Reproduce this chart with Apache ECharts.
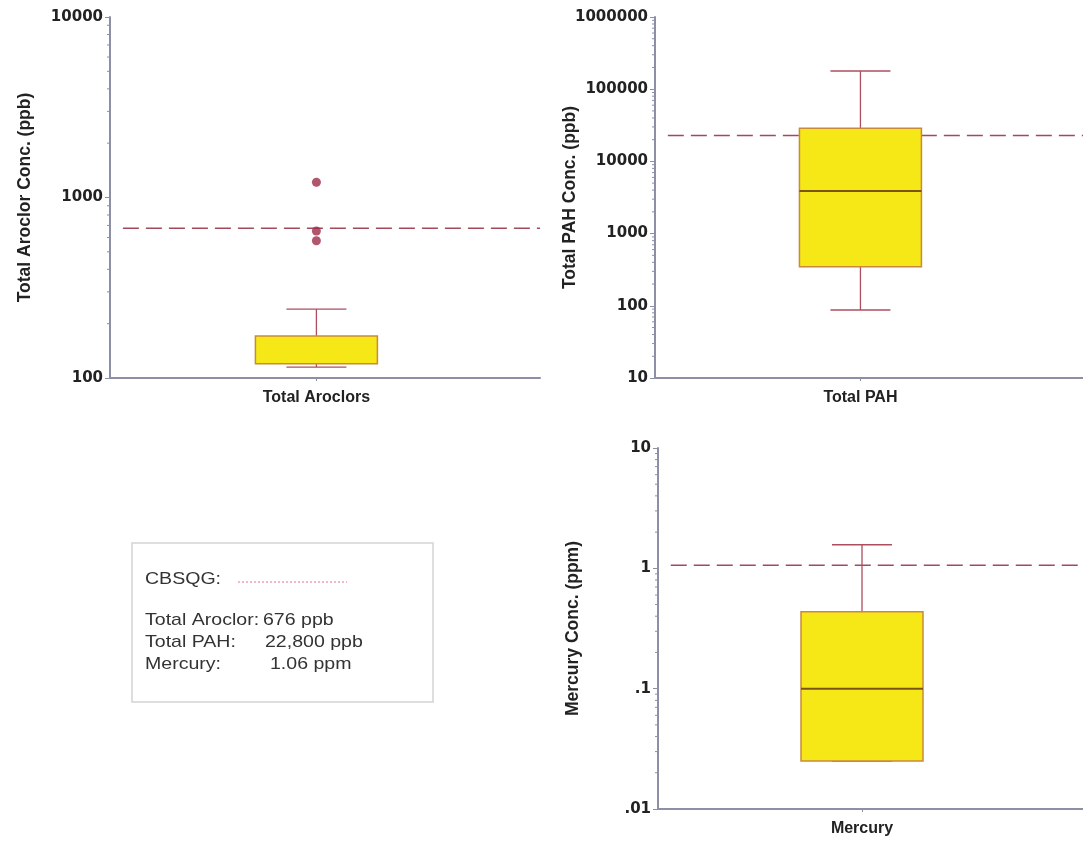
<!DOCTYPE html>
<html>
<head>
<meta charset="utf-8">
<script src="https://cdn.jsdelivr.net/npm/echarts@6/dist/echarts.min.js"></script>
<style>
  html, body { margin: 0; padding: 0; background: #ffffff; }
  #chart { width: 1083px; height: 841px; }
</style>
</head>
<body>
<div id="chart"></div>
<script>
// ---- data ----
const categories = ['Total Aroclors', 'Total PAH', 'Mercury'];
const axisTitles = ['Total Aroclor Conc. (ppb)', 'Total PAH Conc. (ppb)', 'Mercury Conc. (ppm)'];
const legendNames = ['Total Aroclor:', 'Total PAH:', 'Mercury:'];
const units = ['ppb', 'ppb', 'ppm'];
// box summaries: lower whisker, Q1, median, Q3, upper whisker
const aroclorBox = [115, 120, 120, 171, 241];
const pahBox = [87.5, 348, 3890, 28700, 178700];
const mercuryBox = [0.025, 0.025, 0.1, 0.435, 1.57];
const aroclorOutliers = [1214, 652, 576];
// sediment quality guideline for each analyte
const cbsqg = [676, 22800, 1.06];
const axisRanges = [[100, 10000], [10, 1000000], [0.01, 10]];

// ---- layout & style ----
const FONT = '"Liberation Sans", Arial, sans-serif';
const TICK_FONT = '"DejaVu Sans", sans-serif';
const AXIS_COLOR = '#8d8fa6';
const BOX_POS = 0.48;
const BOX_HALF = 61;
const CAP_HALF = 30;
const grids = [
  { left: 110, top: 17, width: 430, height: 361 },
  { left: 655, top: 17, width: 428, height: 361 },
  { left: 658, top: 448, width: 425, height: 361 }
];
const NAME_GAP = 76;
const boxes = [aroclorBox, pahBox, mercuryBox];

function fmtTick(v) {
  if (v >= 1) return String(Math.round(v));
  return String(parseFloat(v.toPrecision(1))).replace(/^0\./, '.');
}

// 2..9 multiples of every decade inside an axis range
function minorTickValues(range) {
  const out = [];
  const lo = Math.round(Math.log10(range[0]));
  const hi = Math.round(Math.log10(range[1]));
  for (let e = lo; e < hi; e++) {
    for (let m = 2; m <= 9; m++) out.push([0, m * Math.pow(10, e)]);
  }
  return out;
}

function renderBox(params, api) {
  const x = api.value(0);
  const lo = api.coord([x, api.value(1)]);
  const q1 = api.coord([x, api.value(2)]);
  const md = api.coord([x, api.value(3)]);
  const q3 = api.coord([x, api.value(4)]);
  const hi = api.coord([x, api.value(5)]);
  const cx = lo[0];
  const whisker = { stroke: '#ad4f5e', lineWidth: 1.3 };
  const children = [
    { type: 'line', shape: { x1: cx, y1: hi[1], x2: cx, y2: q3[1] }, style: whisker },
    { type: 'line', shape: { x1: cx - CAP_HALF, y1: hi[1], x2: cx + CAP_HALF, y2: hi[1] }, style: whisker },
    { type: 'line', shape: { x1: cx, y1: q1[1], x2: cx, y2: lo[1] }, style: whisker },
    { type: 'line', shape: { x1: cx - CAP_HALF, y1: lo[1], x2: cx + CAP_HALF, y2: lo[1] }, style: whisker },
    { type: 'rect', shape: { x: cx - BOX_HALF, y: q3[1], width: 2 * BOX_HALF, height: q1[1] - q3[1] },
      style: { fill: '#f6e716', stroke: '#c98a3c', lineWidth: 1.5 } }
  ];
  // a median sitting on a box edge merges with the border
  if (api.value(3) !== api.value(2) && api.value(3) !== api.value(4)) {
    children.push({ type: 'line', shape: { x1: cx - BOX_HALF, y1: md[1], x2: cx + BOX_HALF, y2: md[1] },
      style: { stroke: '#7a5518', lineWidth: 2 } });
  }
  return { type: 'group', children: children };
}

function renderMinorTick(params, api) {
  const p = api.coord([api.value(0), api.value(1)]);
  return { type: 'line', shape: { x1: p[0] - 3, y1: p[1], x2: p[0], y2: p[1] },
           style: { stroke: AXIS_COLOR, lineWidth: 1 } };
}

const xAxes = categories.map((c, i) => ({
  type: 'value', gridIndex: i, min: 0, max: 1,
  axisLine: { show: true, onZero: false, lineStyle: { color: AXIS_COLOR, width: 2 } },
  axisTick: { show: true, customValues: [BOX_POS], length: 3, lineStyle: { color: AXIS_COLOR } },
  axisLabel: { customValues: [BOX_POS], formatter: () => c, margin: 12,
               fontFamily: FONT, fontWeight: 'bold', fontSize: 16, color: '#222' },
  splitLine: { show: false }
}));

const yAxes = categories.map((c, i) => ({
  type: 'log', logBase: 10, gridIndex: i, min: axisRanges[i][0], max: axisRanges[i][1],
  name: axisTitles[i], nameLocation: 'middle', nameGap: NAME_GAP, nameMoveOverlap: false,
  nameTextStyle: { fontFamily: FONT, fontWeight: 'bold', fontSize: 17.5, color: '#222' },
  axisLine: { show: true, lineStyle: { color: AXIS_COLOR, width: 2 } },
  axisTick: { show: true, length: 5, lineStyle: { color: AXIS_COLOR } },
  axisLabel: { formatter: fmtTick, margin: 7, showMinLabel: true, showMaxLabel: true,
               fontFamily: TICK_FONT, fontWeight: 'bold', fontSize: 15, color: '#222' },
  splitLine: { show: false }
}));

const series = [];
categories.forEach((c, i) => {
  series.push({
    type: 'line', xAxisIndex: i, yAxisIndex: i, silent: true, z: 1,
    symbol: 'none', data: [[0.03, cbsqg[i]], [1, cbsqg[i]]],
    lineStyle: { type: [16, 7], color: '#a24a5c', width: 1.5 }
  });
  series.push({
    type: 'custom', xAxisIndex: i, yAxisIndex: i, z: 2, clip: false,
    renderItem: renderBox, data: [[BOX_POS].concat(boxes[i])]
  });
  series.push({
    type: 'custom', xAxisIndex: i, yAxisIndex: i, z: 3, clip: false, silent: true,
    renderItem: renderMinorTick, data: minorTickValues(axisRanges[i])
  });
});
series.push({
  type: 'scatter', xAxisIndex: 0, yAxisIndex: 0, z: 4, symbolSize: 9,
  itemStyle: { color: '#9c2d4a' },
  data: aroclorOutliers.map(v => [BOX_POS, v])
});

// guideline key box
const keyFont = '17px ' + FONT;
const keyRows = [620, 642, 664];
const keyValueX = [263, 265, 270];
const graphic = [
  { type: 'rect', shape: { x: 132, y: 543, width: 301, height: 159 },
    style: { fill: '#ffffff', stroke: '#d4d4d4', lineWidth: 1.5 } },
  { type: 'text', x: 145, y: 579, scaleX: 1.15,
    style: { text: 'CBSQG:', font: keyFont, fill: '#333', verticalAlign: 'middle' } },
  { type: 'line', shape: { x1: 238, y1: 582, x2: 347, y2: 582 },
    style: { stroke: '#e0788a', lineDash: [2, 2], lineWidth: 1 } }
];
legendNames.forEach((n, i) => {
  graphic.push({ type: 'text', x: 145, y: keyRows[i], scaleX: 1.15,
    style: { text: n, font: keyFont, fill: '#333', verticalAlign: 'middle' } });
  graphic.push({ type: 'text', x: keyValueX[i], y: keyRows[i], scaleX: 1.15,
    style: { text: cbsqg[i].toLocaleString('en-US') + ' ' + units[i], font: keyFont, fill: '#333', verticalAlign: 'middle' } });
});

const chart = echarts.init(document.getElementById('chart'));
chart.setOption({
  animation: false,
  backgroundColor: '#ffffff',
  grid: grids,
  xAxis: xAxes,
  yAxis: yAxes,
  series: series,
  graphic: graphic
});
</script>
</body>
</html>
